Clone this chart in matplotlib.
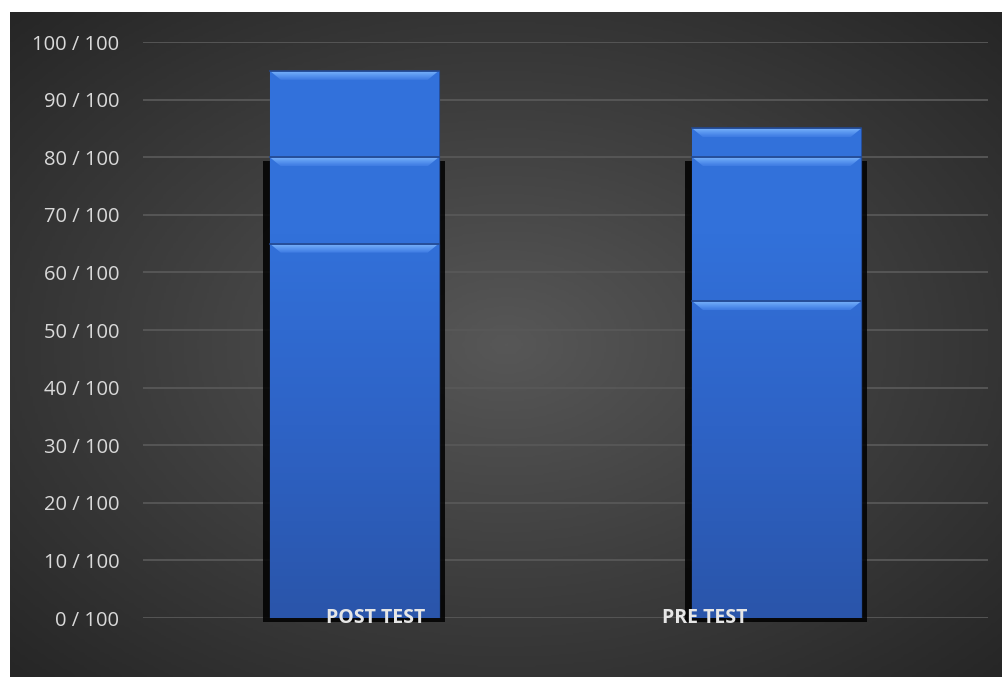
import numpy as np
import matplotlib
matplotlib.use("Agg")
import matplotlib.pyplot as plt
from matplotlib.patches import Polygon, Rectangle
from matplotlib.colors import LinearSegmentedColormap

categories = ['POST TEST', 'PRE TEST']
series_a = [95, 85]
series_b = [80, 80]
series_c = [65, 55]
yticks = [0, 10, 20, 30, 40, 50, 60, 70, 80, 90, 100]
ytick_labels = [f"{v} / 100" for v in yticks]
label_offsets = [0.05, -0.17]

plt.rcParams['font.family'] = ['Open Sans', 'DejaVu Sans']

W, H = 1003, 677
fig = plt.figure(figsize=(W / 100, H / 100), dpi=100)
fig.patch.set_facecolor('white')

# background radial gradient panel
bg = fig.add_axes([10 / W, 0, (W - 10) / W, (H - 12) / H])
bg.set_axis_off()
nx, ny = 400, 270
xx, yy = np.meshgrid(np.linspace(-1, 1, nx), np.linspace(-1, 1, ny))
r = np.sqrt(xx ** 2 + yy ** 2) / np.sqrt(2)
bgcmap = LinearSegmentedColormap.from_list('bg', ['#575757', '#3e3e3e', '#262626'])
bg.imshow(r, cmap=bgcmap, aspect='auto', extent=[0, 1, 0, 1], vmin=0, vmax=1)
bg.set_xlim(0, 1)
bg.set_ylim(0, 1)

ax = fig.add_axes([143 / W, 59 / H, 845 / W, 576 / H])
ax.set_facecolor('none')
for s in ax.spines.values():
    s.set_visible(False)
ax.set_yticks(yticks)
ax.set_yticklabels(ytick_labels, color='#d9d9d9', fontsize=14.5)
ax.tick_params(axis='y', length=0, pad=17)
ax.set_xticks([])
ax.yaxis.grid(True, color='#585858', linewidth=1.3)
ax.set_axisbelow(True)

x = np.arange(len(categories))
width = 0.4
px_x = 2.0 / 845  # data units per pixel in x
px_y = 100 / 576

barcmap = LinearSegmentedColormap.from_list('bar', ['#2a55aa', '#2e63c6', '#3271da', '#3372dc'])
grad = np.linspace(0, 1, 256).reshape(-1, 1)
bevcmap = LinearSegmentedColormap.from_list('bev', ['#3d7ae2', '#5592ee', '#72adf8'])

# shadows
for xi, v in zip(x, series_b):
    sh = Rectangle((xi - width / 2 - 7 * px_x, -4 * px_y), width + 13 * px_x, v,
                   facecolor='black', edgecolor='none', alpha=0.85, zorder=2, clip_on=False)
    ax.add_patch(sh)

for k, vals in enumerate([series_a, series_b, series_c]):
    z = 3 + k * 3
    bars = ax.bar(x, vals, width=width, color='#2f66d0', edgecolor='#264f9c', linewidth=0.8,
                  zorder=z)
    for b in bars:
        bx, bw, bh = b.get_x(), b.get_width(), b.get_height()
        im = ax.imshow(grad, cmap=barcmap, aspect='auto', origin='lower',
                       extent=[bx, bx + bw, 0, 100], zorder=z + 0.5, vmin=0, vmax=1)
        im.set_clip_path(b)
        dx = 11 * px_x
        dy = 9 * px_y
        bevel = Polygon([(bx, bh), (bx + bw, bh), (bx + bw - dx, bh - dy), (bx + dx, bh - dy)],
                        closed=True, facecolor='none', edgecolor='none', zorder=z + 1)
        ax.add_patch(bevel)
        bim = ax.imshow(grad, cmap=bevcmap, aspect='auto', origin='lower',
                        extent=[bx, bx + bw, bh - dy, bh - 1.5 * px_y], zorder=z + 1,
                        vmin=0, vmax=1)
        bim.set_clip_path(bevel)
        ax.plot([bx, bx + bw], [bh, bh], color='#24498f', linewidth=1.2,
                zorder=z + 1.6)
ax.set_xlim(-0.5, 1.5)
ax.set_ylim(0, 100)

for xi, name, off in zip(x, categories, label_offsets):
    ax.text(xi + off, 0, name, ha='center', va='center', color='#e6e6e6', fontsize=14,
            fontweight='bold', zorder=20, clip_on=False)

fig.savefig('out.png', dpi=100)
